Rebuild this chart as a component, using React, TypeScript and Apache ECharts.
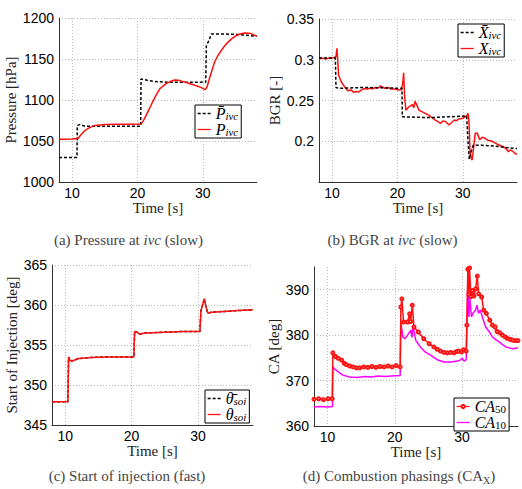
import React, { useEffect, useRef } from "react";
import * as echarts from "echarts";

// ---- Data ----
const X_TICKS = [10, 20, 30];

// (a) Pressure at ivc
const pressureRef: number[][] = [
  [8, 1030], [10.75, 1030], [10.8, 1069], [11.2, 1070], [12, 1068], [16, 1068], [20.5, 1068],
  [20.55, 1125.6], [21.5, 1124], [22.4, 1122.7], [25, 1121.5], [30, 1121.5], [30.45, 1121.5],
  [30.55, 1166], [31.0, 1173.7], [31.3, 1180.5], [33, 1180.5], [35.3, 1180], [36.5, 1179], [38.3, 1177.6],
];
const pressureMeas: number[][] = [
  [8, 1052], [9, 1052], [10, 1052.5], [10.9, 1053], [11.4, 1058], [12, 1063], [12.6, 1066],
  [13.5, 1069], [15, 1070], [17, 1070.3], [19, 1070.5], [20.58, 1070.7], [21, 1076], [21.5, 1084],
  [22, 1092], [22.4, 1099], [23, 1108], [23.4, 1113.4], [24, 1117.5], [24.4, 1120], [25, 1122.5],
  [25.7, 1124.4], [26.3, 1124], [26.9, 1122.7], [27.7, 1120.8], [28.5, 1118.7], [29.1, 1117],
  [29.7, 1115.4], [30.4, 1112.6], [30.7, 1117], [31.0, 1125.6], [31.4, 1136], [31.8, 1146],
  [32.3, 1154], [32.8, 1160], [33.3, 1165.5], [33.8, 1170], [34.4, 1174.5], [35.1, 1178.4],
  [35.7, 1180.5], [36.4, 1181.7], [37, 1181.5], [37.4, 1181], [37.8, 1179.5], [38.3, 1177.6],
];

// (b) BGR at ivc
const bgrRef: number[][] = [
  [8, 0.302], [10.5, 0.302], [10.6, 0.266], [11, 0.265], [15, 0.266], [20.7, 0.265],
  [20.75, 0.23], [25, 0.229], [30.6, 0.231], [30.8, 0.2], [31.0, 0.178], [31.2, 0.185],
  [31.6, 0.195], [33, 0.195], [35, 0.194], [37, 0.192], [38.3, 0.191],
];
const bgrMeas: number[][] = [
  [8, 0.301], [8.5, 0.302], [9, 0.301], [9.5, 0.302], [10, 0.302], [10.4, 0.303], [10.6, 0.304],
  [10.75, 0.314], [10.9, 0.295], [11.0, 0.281], [11.4, 0.273], [11.9, 0.267], [12.4, 0.262],
  [12.9, 0.263], [13.3, 0.26], [13.6, 0.261], [14.1, 0.2605], [14.5, 0.263], [14.9, 0.2645],
  [15.4, 0.264], [15.9, 0.265], [16.3, 0.2645], [16.6, 0.266], [17.0, 0.265], [17.4, 0.268],
  [17.8, 0.266], [18.1, 0.265], [18.6, 0.266], [19.0, 0.264], [19.4, 0.264], [19.9, 0.2635],
  [20.3, 0.263], [20.6, 0.263], [20.8, 0.27], [20.95, 0.284], [21.1, 0.255], [21.3, 0.238],
  [21.8, 0.2425], [22.3, 0.245], [22.5, 0.241], [22.7, 0.249], [23.0, 0.244], [23.3, 0.238],
  [23.75, 0.2363], [24.3, 0.234], [24.8, 0.232], [25.3, 0.229], [25.8, 0.226], [26.2, 0.224],
  [26.6, 0.222], [27.0, 0.225], [27.4, 0.224], [27.9, 0.22], [28.3, 0.223], [28.7, 0.226],
  [29.0, 0.225], [29.4, 0.2273], [29.9, 0.228], [30.4, 0.23], [30.7, 0.232], [30.8, 0.2343],
  [30.95, 0.225], [31.1, 0.19], [31.3, 0.179], [31.45, 0.177], [31.7, 0.195], [31.9, 0.2097],
  [32.2, 0.21], [32.6, 0.202], [33.0, 0.205], [33.4, 0.2036], [33.9, 0.201], [34.4, 0.2003],
  [34.9, 0.198], [35.4, 0.196], [35.8, 0.1945], [36.2, 0.1934], [36.6, 0.191], [37.0, 0.187],
  [37.3, 0.1895], [37.6, 0.188], [38.0, 0.185], [38.3, 0.184],
];

// (c) Start of injection
const soiRef: number[][] = [
  [8, 347.9], [10.4, 347.9], [10.5, 353.5], [10.7, 353.1], [11, 353.0], [12, 353.3], [14, 353.45],
  [16, 353.5], [18, 353.5], [20.35, 353.5], [20.45, 356.7], [20.8, 356.6], [21.2, 356.35],
  [22, 356.5], [25, 356.6], [28, 356.7], [30.3, 356.7], [30.45, 359.3], [30.7, 360.0],
  [30.95, 360.8], [31.2, 359.8], [31.5, 358.95], [32, 359.1], [34, 359.2], [36, 359.3], [38.3, 359.4],
];
const soiMeas: number[][] = [
  [8, 347.9], [10.4, 347.9], [10.5, 353.5], [10.7, 353.1], [11, 353.0], [12, 353.3], [14, 353.45],
  [16, 353.5], [18, 353.5], [20.35, 353.5], [20.45, 356.7], [20.8, 356.6], [21.2, 356.35],
  [22, 356.5], [25, 356.6], [28, 356.7], [30.3, 356.7], [30.45, 359.3], [30.7, 360.0],
  [30.95, 360.8], [31.2, 359.8], [31.5, 358.95], [32, 359.1], [34, 359.2], [36, 359.3], [38.3, 359.4],
];

// (d) Combustion phasings
const ca50: number[][] = [
  [8, 365.9], [8.7, 366.0], [9.4, 365.8], [10.1, 366.0], [10.7, 366.0], [10.8, 376.1], [11.2, 375.3],
  [11.6, 374.9], [12.1, 374.5], [12.5, 373.8], [12.8, 373.5], [13.3, 373.2], [13.8, 373.0],
  [14.3, 372.8], [14.8, 372.8], [15.4, 373.0], [16.0, 372.9], [16.6, 373.1], [17.2, 372.9],
  [17.8, 373.1], [18.4, 373.0], [19.0, 373.2], [19.6, 373.0], [20.2, 373.3], [20.8, 373.0],
  [20.9, 386.2], [21.05, 388.0], [21.3, 382.9], [21.9, 382.9], [22.2, 384.7], [22.35, 383.0],
  [22.6, 386.6], [22.85, 381.8], [23.5, 380.7], [24.3, 379.2], [25.1, 378.1], [25.8, 377.4],
  [26.3, 376.9], [26.8, 376.5], [27.3, 376.2], [27.8, 376.1], [28.3, 376.2], [28.8, 376.1],
  [29.2, 376.4], [29.5, 376.5], [29.9, 376.3], [30.2, 376.8], [30.6, 376.5], [30.7, 382.2],
  [30.85, 394.5], [31.0, 389.0], [31.1, 394.8], [31.3, 388.5], [31.5, 389.8], [31.75, 388.6],
  [32.0, 390.2], [32.25, 393.0], [32.45, 389.1], [32.9, 388.4], [33.2, 385.5], [33.6, 384.8],
  [34.1, 383.3], [34.5, 382.2], [34.9, 381.8], [35.2, 380.8], [35.6, 380.5], [36.0, 380.0],
  [36.4, 379.6], [36.7, 379.3], [37.1, 379.1], [37.5, 378.9], [37.9, 378.8], [38.3, 378.8],
];
const ca10: number[][] = [
  [8, 364.2], [9, 364.3], [10, 364.2], [10.75, 364.3], [10.8, 373.0], [11.2, 372.4], [11.6, 371.9],
  [12.3, 371.2], [13.3, 370.8], [14.5, 370.7], [15.5, 370.9], [16.5, 370.8], [17.5, 371.0],
  [18.5, 370.9], [19.5, 371.0], [20.8, 371.1], [20.9, 382.7], [21.2, 379.6], [21.5, 379.2],
  [21.9, 380.0], [22.4, 381.1], [22.55, 379.5], [22.7, 382.2], [23.1, 378.9], [23.8, 377.4],
  [24.5, 376.3], [25.3, 375.6], [26.3, 374.6], [27.3, 374.1], [28.3, 374.1], [29.3, 374.3],
  [29.7, 374.5], [30.0, 374.9], [30.3, 374.3], [30.6, 374.6], [30.7, 380.0], [30.85, 392.5],
  [31.0, 384.0], [31.15, 388.0], [31.4, 384.0], [31.6, 384.8], [32.0, 385.5], [32.2, 386.6],
  [32.45, 384.8], [32.7, 385.5], [33.0, 384.0], [33.5, 381.8], [34.0, 380.8], [34.5, 379.6],
  [35.0, 379.0], [35.5, 378.5], [36.0, 377.9], [36.5, 377.4], [37.0, 377.2], [37.5, 377.0], [38.3, 377.2],
];

const RED = "#ff1010";
const MAGENTA = "#ff00ff";
const SERIF = "Liberation Serif";
const SANS = "Liberation Sans";

const legendNames: Record<string, string> = {
  Pbar: "{m|P\u0304}{s|ivc}",
  Pivc: "{m|P}{s|ivc}",
  Xbar: "{m|X\u0304}{s|ivc}",
  Xivc: "{m|X}{s|ivc}",
  thbar: "{m|\u03B8\u0304}{s|soi}",
  thsoi: "{m|\u03B8}{s|soi}",
  CA50: "{m|CA}{n|50}",
  CA10: "{m|CA}{n|10}",
};

const richLegend = {
  m: { fontFamily: SERIF, fontStyle: "italic", fontSize: 16, lineHeight: 15, color: "#000", verticalAlign: "bottom" },
  s: { fontFamily: SERIF, fontStyle: "italic", fontSize: 11, lineHeight: 9, color: "#000", verticalAlign: "bottom" },
  n: { fontFamily: SERIF, fontSize: 11, lineHeight: 9, color: "#000", verticalAlign: "bottom" },
};

function makeLegend(names: string[], left: number, top: number, markerName?: string) {
  return {
    show: true,
    orient: "vertical",
    left,
    top,
    data: names.map((n) => ({
      name: n,
      itemStyle: n === markerName ? { opacity: 1, borderWidth: 1 } : { opacity: 0 },
    })),
    itemWidth: 13,
    itemHeight: 4,
    itemGap: 0,
    padding: [0, 3, 1, 2],
    borderColor: "#000",
    borderWidth: 1,
    backgroundColor: "#fff",
    selectedMode: false,
    lineStyle: { width: 1.3 },
    formatter: (n: string) => legendNames[n] || n,
    textStyle: { rich: richLegend },
  };
}

function makeX(gridIndex: number, gap: number) {
  return {
    type: "value",
    gridIndex,
    min: 8,
    max: 38.3,
    splitNumber: 3,
    name: "Time [s]",
    nameLocation: "middle",
    nameGap: gap,
    nameTextStyle: { fontFamily: SERIF, fontSize: 15, color: "#222", verticalAlign: "top" },
    axisLine: { show: true, lineStyle: { color: "#333", width: 1 } },
    axisTick: { show: false },
    axisLabel: {
      margin: 4,
      color: "#000",
      fontFamily: SANS,
      fontSize: 14,
      formatter: (v: number) => (X_TICKS.indexOf(v) >= 0 ? String(v) : ""),
    },
    splitLine: {
      show: true,
      showMinLine: false,
      showMaxLine: false,
      lineStyle: { type: [1, 2], color: "#b8b8b8", width: 1 },
    },
  };
}

function makeY(gridIndex: number, name: string, min: number, max: number, interval: number, gap: number, fmt: (v: number) => string, showMaxLine: boolean) {
  return {
    type: "value",
    gridIndex,
    min,
    max,
    interval,
    name,
    nameLocation: "middle",
    nameGap: gap,
    nameTextStyle: { fontFamily: SERIF, fontSize: 15, color: "#222" },
    axisLine: { show: true, lineStyle: { color: "#333", width: 1 } },
    axisTick: { show: false },
    axisLabel: { margin: 5, color: "#000", fontFamily: SANS, fontSize: 14, formatter: fmt },
    splitLine: {
      show: true,
      showMinLine: false,
      showMaxLine,
      lineStyle: { type: [1, 2], color: "#b8b8b8", width: 1 },
    },
  };
}

function lineSeries(name: string, data: number[][], idx: number, color: string, dashed: boolean, z: number, extra: any = {}) {
  return {
    type: "line",
    name,
    xAxisIndex: idx,
    yAxisIndex: idx,
    data,
    symbol: "none",
    showSymbol: false,
    lineStyle: { color, width: 1.5, type: dashed ? [3, 2] : "solid" },
    itemStyle: { color },
    z,
    ...extra,
  };
}

function caption(text: string, x: number, y: number) {
  return {
    type: "text",
    x,
    y,
    style: {
      text,
      align: "center",
      verticalAlign: "middle",
      fontFamily: SERIF,
      fontSize: 15,
      fill: "#444",
      rich: {
        i: { fontFamily: SERIF, fontStyle: "italic", fontSize: 15, fill: "#444", color: "#444" },
        s: { fontFamily: SERIF, fontSize: 10, fill: "#444", color: "#444", padding: [8, 0, 0, 0] },
      },
    },
  };
}

export default function App() {
  const ref = useRef<HTMLDivElement>(null);
  useEffect(() => {
    if (!ref.current) return;
    const chart = echarts.init(ref.current, undefined, { renderer: "svg" });
    const option: any = {
      animation: false,
      backgroundColor: "#fff",
      grid: [
        { left: 59, top: 18, width: 198, height: 164, outerBoundsMode: "none" },
        { left: 319, top: 19, width: 198, height: 163, outerBoundsMode: "none" },
        { left: 52, top: 265, width: 201, height: 160, outerBoundsMode: "none" },
        { left: 314, top: 267, width: 204, height: 159, outerBoundsMode: "none" },
      ],
      xAxis: [makeX(0, 14), makeX(1, 14), makeX(2, 16), makeX(3, 16)],
      yAxis: [
        makeY(0, "Pressure [hPa]", 1000, 1200, 50, 38, (v) => String(v), true),
        makeY(1, "BGR [-]", 0.15, 0.35, 0.05, 33, (v) => (Math.abs(v - 0.15) < 1e-6 ? "" : String(+v.toFixed(2))), true),
        makeY(2, "Start of Injection [deg]", 345, 365, 5, 33, (v) => String(v), true),
        makeY(3, "CA [deg]", 360, 395, 10, 28, (v) => (v % 10 === 0 ? String(v) : ""), false),
      ],
      legend: [
        makeLegend(["Pbar", "Pivc"], 195, 105),
        makeLegend(["Xbar", "Xivc"], 458, 24),
        makeLegend(["thbar", "thsoi"], 205, 390),
        makeLegend(["CA50", "CA10"], 454, 398, "CA50"),
      ],
      series: [
        lineSeries("Pbar", pressureRef, 0, "#000", true, 2),
        lineSeries("Pivc", pressureMeas, 0, RED, false, 3),
        lineSeries("Xbar", bgrRef, 1, "#000", true, 3),
        lineSeries("Xivc", bgrMeas, 1, RED, false, 2),
        lineSeries("thbar", soiRef, 2, "#000", true, 2),
        lineSeries("thsoi", soiMeas, 2, RED, false, 3),
        lineSeries("CA10", ca10, 3, MAGENTA, false, 2),
        lineSeries("CA50", ca50, 3, RED, false, 3, {
          symbol: "emptyCircle",
          showSymbol: true,
          symbolSize: 3,
          itemStyle: { color: RED, borderWidth: 1 },
        }),
      ],
      graphic: [
        caption("(a) Pressure at {i|ivc} (slow)", 128.5, 240),
        caption("(b) BGR at {i|ivc} (slow)", 392.5, 240),
        caption("(c) Start of injection (fast)", 127, 476),
        caption("(d) Combustion phasings (CA{s|X})", 399, 476),
      ],
    };
    chart.setOption(option);
    return () => chart.dispose();
  }, []);
  return (
    <div
      ref={ref}
      style={{ position: "fixed", left: 0, top: 0, width: 522, height: 489, background: "#fff" }}
    />
  );
}
